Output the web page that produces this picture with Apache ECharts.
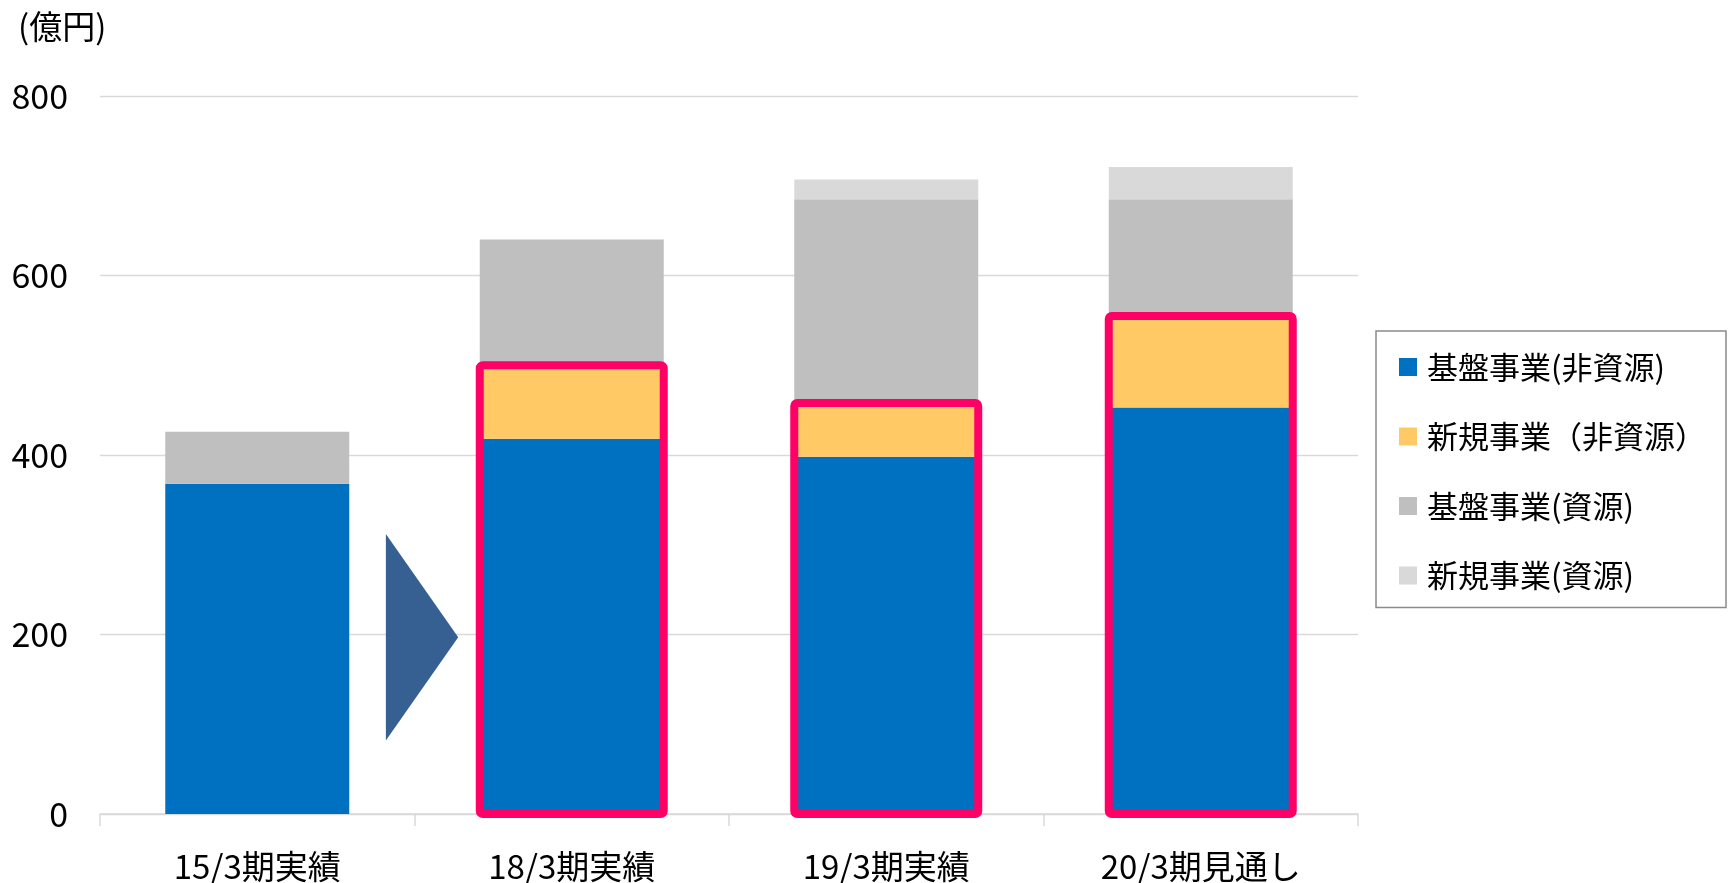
<!DOCTYPE html>
<html>
<head>
<meta charset="utf-8">
<script src="https://cdn.jsdelivr.net/npm/echarts@6/dist/echarts.min.js"></script>
<style>
  html, body { margin: 0; padding: 0; background: #fff; }
  #chart { width: 1731px; height: 883px; }
</style>
</head>
<body>
<div id="chart"></div>
<script>
const categories = ['15/3期実績', '18/3期実績', '19/3期実績', '20/3期見通し']

// 億円
const coreNonRes = [368, 418, 398, 453]
const newNonRes = [0, 82, 60, 102]
const coreRes = [58, 140, 227, 130]
const newRes = [0, 0, 22, 36]

const highlighted = [false, true, true, true]

// arrow between first and second bar
const arrowAfter = 0
const arrowLow = 82
const arrowHigh = 312

const yTicks = { min: 0, max: 800, interval: 200 }

const FONT = '"Noto Sans CJK JP", "Noto Sans", sans-serif'
const BAR_RATIO = 0.585

const boxData = []
highlighted.forEach((on, i) => {
  if (on) boxData.push([i, coreNonRes[i] + newNonRes[i]])
})

const barBase = {
  type: 'bar',
  stack: 'total',
  barWidth: (BAR_RATIO * 100) + '%',
  emphasis: { disabled: true },
}

const chart = echarts.init(document.getElementById('chart'))
chart.setOption({
  animation: false,
  textStyle: { fontFamily: FONT, color: '#000' },
  title: {
    text: '(億円)',
    left: 13,
    top: 5,
    textStyle: { fontFamily: FONT, fontSize: 33, fontWeight: 'normal', color: '#000' },
  },
  legend: {
    orient: 'vertical',
    left: 1376,
    top: 331,
    padding: [20, 20, 16, 23],
    itemGap: 37.5,
    itemWidth: 18,
    itemHeight: 18,
    icon: 'rect',
    borderColor: '#8a8a8a',
    borderWidth: 1.5,
    data: ['基盤事業(非資源)', '新規事業（非資源）', '基盤事業(資源)', '新規事業(資源)'],
    textStyle: { fontFamily: FONT, fontSize: 31, lineHeight: 32, color: '#000', padding: [0, 0, 0, 5] },
  },
  grid: { left: 100, right: 373, top: 96, bottom: 69 },
  xAxis: {
    type: 'category',
    data: categories,
    axisLine: { lineStyle: { color: '#d9d9d9', width: 1.5 } },
    axisTick: { show: true, length: 12, lineStyle: { color: '#d9d9d9', width: 1.5 } },
    axisLabel: { fontFamily: FONT, fontSize: 33, color: '#000', margin: 36 },
  },
  yAxis: {
    type: 'value',
    ...yTicks,
    axisLine: { show: false },
    axisTick: { show: false },
    axisLabel: { fontFamily: FONT, fontSize: 34, color: '#000', margin: 32 },
    splitLine: { lineStyle: { color: '#d9d9d9', width: 1.3 } },
  },
  series: [
    { ...barBase, name: '基盤事業(非資源)', data: coreNonRes, itemStyle: { color: '#0070C0' } },
    { ...barBase, name: '新規事業（非資源）', data: newNonRes, itemStyle: { color: '#FFCA66' } },
    { ...barBase, name: '基盤事業(資源)', data: coreRes, itemStyle: { color: '#BFBFBF' } },
    { ...barBase, name: '新規事業(資源)', data: newRes, itemStyle: { color: '#D9D9D9' } },
    {
      type: 'custom',
      name: 'box',
      z: 5,
      silent: true,
      data: boxData,
      renderItem(params, api) {
        const idx = api.value(0)
        const top = api.coord([idx, api.value(1)])
        const base = api.coord([idx, 0])
        const w = api.size([1, 0])[0] * BAR_RATIO
        return {
          type: 'rect',
          shape: { x: top[0] - w / 2, y: top[1], width: w, height: base[1] - top[1], r: 3 },
          style: { fill: null, stroke: '#FF0066', lineWidth: 8 },
        }
      },
    },
    {
      type: 'custom',
      name: 'arrow',
      z: 3,
      silent: true,
      data: [[arrowAfter, arrowLow, arrowHigh]],
      renderItem(params, api) {
        const idx = api.value(0)
        const band = api.size([1, 0])[0]
        const lo = api.coord([idx, api.value(1)])
        const hi = api.coord([idx, api.value(2)])
        const x0 = lo[0] + band * 0.409
        const x1 = lo[0] + band * 0.639
        return {
          type: 'polygon',
          shape: { points: [[x0, hi[1]], [x1, (hi[1] + lo[1]) / 2], [x0, lo[1]]] },
          style: { fill: '#366092' },
        }
      },
    },
  ],
})
</script>
</body>
</html>
